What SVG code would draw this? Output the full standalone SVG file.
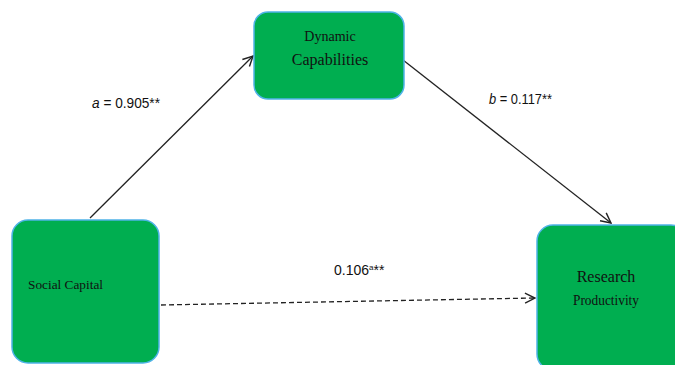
<svg xmlns="http://www.w3.org/2000/svg" width="675" height="365" viewBox="0 0 675 365">
<style>
.box{fill:#00AE50;stroke:#4FB3E8;stroke-width:1.5}
.t{font-family:"Liberation Serif",serif;fill:#111}
.lab{font-family:"Liberation Sans Narrow","Liberation Sans",sans-serif;fill:#111;font-size:14px}
.ln{stroke:#222;stroke-width:1.3;fill:none}
</style>
<defs>
<marker id="ah" viewBox="0 0 12 12" refX="11" refY="6" markerWidth="12" markerHeight="12" markerUnits="userSpaceOnUse" orient="auto">
<path d="M1,1 L11,6 L1,11" fill="none" stroke="#222" stroke-width="1.4"/>
</marker>
</defs>
<rect width="675" height="365" fill="#fff"/>
<g id="connectors">
<line class="ln" x1="90" y1="218" x2="253" y2="56" marker-end="url(#ah)"/>
<line class="ln" x1="403" y1="60" x2="611" y2="223" marker-end="url(#ah)"/>
<line class="ln" x1="161" y1="305" x2="535" y2="298" stroke-dasharray="5,3" marker-end="url(#ah)"/>
<text class="lab" x="92" y="108" textLength="68" lengthAdjust="spacingAndGlyphs"><tspan font-style="italic">a</tspan> = 0.905**</text>
<text class="lab" x="489" y="104" textLength="63" lengthAdjust="spacingAndGlyphs"><tspan font-style="italic">b</tspan> = 0.117**</text>
<text class="lab" x="334" y="275">0.106<tspan font-size="8" dy="-5">a</tspan><tspan dy="5">**</tspan></text>
</g>
<g id="dynamic-capabilities">
<rect class="box" x="254" y="12" width="150" height="87" rx="14"/>
<text class="t" x="330" y="41" font-size="14" text-anchor="middle">Dynamic</text>
<text class="t" x="330" y="65" font-size="16" text-anchor="middle">Capabilities</text>
</g>
<g id="social-capital">
<rect class="box" x="12" y="220" width="147" height="143" rx="16"/>
<text class="t" x="28" y="289" font-size="13" textLength="75" lengthAdjust="spacingAndGlyphs">Social Capital</text>
</g>
<g id="research-productivity">
<rect class="box" x="537" y="225" width="150" height="145" rx="16"/>
<text class="t" x="606" y="282" font-size="16" text-anchor="middle">Research</text>
<text class="t" x="606" y="305" font-size="14" text-anchor="middle" textLength="66" lengthAdjust="spacingAndGlyphs">Productivity</text>
</g>
</svg>
